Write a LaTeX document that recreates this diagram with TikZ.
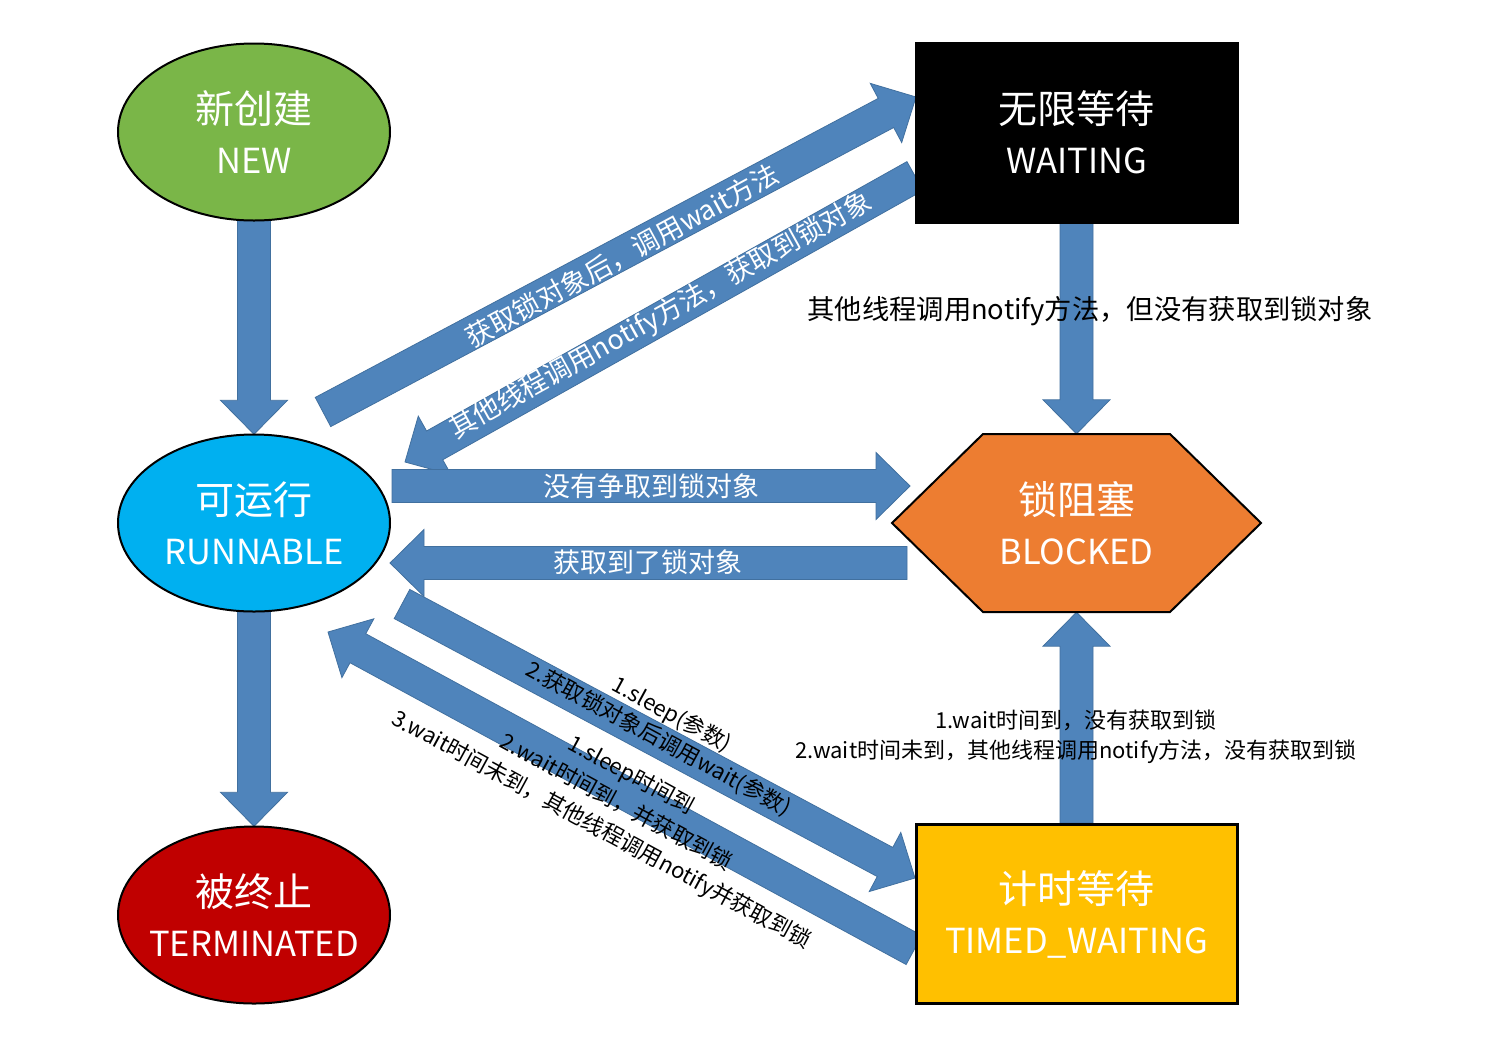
\documentclass[tikz,border=0pt]{standalone}
\usepackage{fontspec}
\setmainfont{Noto Sans CJK SC}
\usetikzlibrary{calc,shapes.geometric,backgrounds}
\definecolor{arrowblue}{HTML}{4F84BB}
\definecolor{arrowedge}{HTML}{41709F}
\definecolor{newgreen}{HTML}{7AB648}
\definecolor{runblue}{HTML}{00B0F0}
\definecolor{termred}{HTML}{C00000}
\definecolor{blockorange}{HTML}{ED7D31}
\definecolor{timedyellow}{HTML}{FFC000}
\newcommand\latinsz{\fontsize{34.5}{50}\selectfont}
\tikzset{
  shapeline/.style={draw=black, line width=2pt, line join=miter},
  statelabel/.style={rectangle, minimum width=272pt, minimum height=177pt,
    inner sep=0pt, text=white, align=center, font=\fontsize{39}{50}\selectfont},
  box/.style={rectangle, draw=black, line width=3pt, minimum width=321pt, minimum height=179pt,
    inner sep=0pt, text=white, align=center, font=\fontsize{39}{50}\selectfont},
  hexlabel/.style={rectangle, minimum width=369pt, minimum height=178pt, inner sep=0pt,
    text=white, align=center, font=\fontsize{39}{50}\selectfont},
  barrow/.style={fill=arrowblue, draw=arrowedge, line width=0.8pt, line join=miter},
  arrlabel/.style={text=white, inner sep=0pt, font=\fontsize{27}{32}\selectfont},
  note/.style={text=black, inner sep=0pt, align=center},
}
\newcommand\blockarr[2]{%
  \coordinate (bah) at ($(#2)!34pt!(#1)$);
  \path[barrow] ($(#1)!16.5pt!90:(#2)$) -- ($(bah)!16.5pt!90:(#2)$) -- ($(bah)!33.5pt!90:(#2)$)
    -- (#2) -- ($(bah)!33.5pt!-90:(#2)$) -- ($(bah)!16.5pt!-90:(#2)$) -- ($(#1)!16.5pt!-90:(#2)$) -- cycle;
}
\begin{document}
\begin{tikzpicture}[x=1pt,y=-1pt]
\useasboundingbox (0,0) rectangle (1493,1042);
% shapes
\path[shapeline, fill=newgreen] (254,132) ellipse [x radius=136pt, y radius=88.5pt];
\path[shapeline, fill=runblue] (254,523) ellipse [x radius=136pt, y radius=88.5pt];
\path[shapeline, fill=termred] (254,915) ellipse [x radius=136pt, y radius=88.5pt];
\path[shapeline, fill=blockorange]
  (892,523) -- (983,434) -- (1170,434) -- (1261,523) -- (1170,612) -- (983,612) -- cycle;
% nodes
\node[statelabel] (new) at (254,132) {新创建\\{\latinsz NEW}};
\node[statelabel] (run) at (254,523) {可运行\\{\latinsz RUNNABLE}};
\node[statelabel] (term) at (254,915) {被终止\\{\latinsz TERMINATED}};
\node[box, fill=black] (wait) at (1076.5,132.5) {无限等待\\{\latinsz WAITING}};
\node[box, fill=timedyellow] (tw) at (1076.5,914) {计时等待\\{\latinsz TIMED\_WAITING}};
\node[hexlabel] (blk) at (1076.5,523) {锁阻塞\\{\latinsz BLOCKED}};
% arrow end points
\coordinate (a1s) at (323,412);
\coordinate (a1e) at (916,97);
\coordinate (a2s) at (915,176);
\coordinate (a2e) at (405,462);
\coordinate (a3s) at (402,604);
\coordinate (a3e) at (915,878);
\coordinate (a4s) at (914,950);
\coordinate (a4e) at (328,632);
\coordinate (h1s) at (392,486);
\coordinate (h1e) at (910,486);
\coordinate (h2s) at (907,563);
\coordinate (h2e) at (390,563);
\begin{scope}[on background layer]
  \fill[white] (0,0) rectangle (1493,1042);
  \blockarr{new.south}{run.north}
  \blockarr{run.south}{term.north}
  \blockarr{wait.south}{blk.north}
  \blockarr{tw.north}{blk.south}
  \blockarr{a1s}{a1e}
  \blockarr{a2s}{a2e}
  \blockarr{a3s}{a3e}
  \blockarr{a4s}{a4e}
  \blockarr{h1s}{h1e}
  \blockarr{h2s}{h2e}
\end{scope}
% arrow labels
\node[arrlabel, rotate=28.5] (l1) at (622,256) {获取锁对象后，调用wait方法};
\node[arrlabel, rotate=29] (l2) at (661,316) {其他线程调用notify方法，获取到锁对象};
\node[arrlabel] (l3) at (651,486) {没有争取到锁对象};
\node[arrlabel] (l4) at (648,562) {获取到了锁对象};
\node[note, font=\fontsize{27.3}{32}\selectfont] (l5) at (1090,311) {其他线程调用notify方法，但没有获取到锁对象};
\node[note, font=\fontsize{22}{30}\selectfont] (l6) at (1076,737) {1.wait时间到，没有获取到锁\\2.wait时间未到，其他线程调用notify方法，没有获取到锁};
\node[note, font=\fontsize{22}{28}\selectfont, rotate=-28.5] (l7) at (665,727) {1.sleep(参数)\\2.获取锁对象后调用wait(参数)};
\node[note, font=\fontsize{22}{31}\selectfont, rotate=-28.5] (l8) at (616,803) {1.sleep时间到\\2.wait时间到，并获取到锁\\3.wait时间未到，其他线程调用notify并获取到锁};
\end{tikzpicture}
\end{document}
